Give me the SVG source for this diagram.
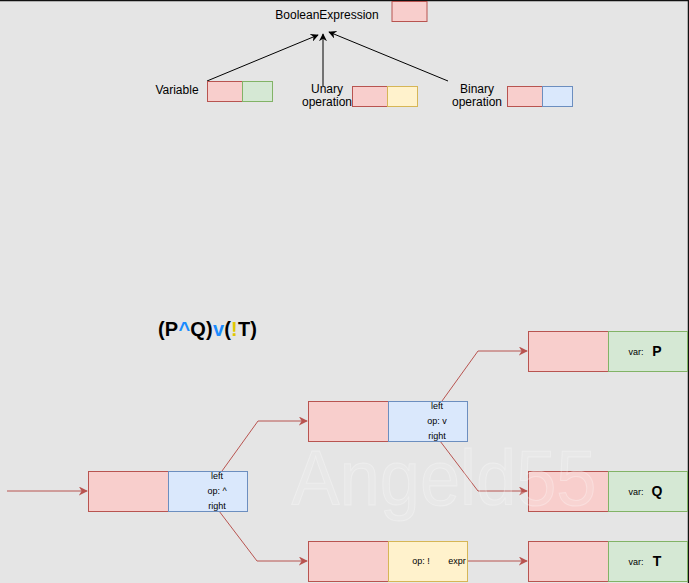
<svg xmlns="http://www.w3.org/2000/svg" width="689" height="583" viewBox="0 0 689 583">
<defs>
<style>
text{font-family:"Liberation Sans",Arial,sans-serif;fill:#000}
.r{fill:#f8cecc;stroke:#b85450;stroke-width:1}
.b{fill:#dae8fc;stroke:#6c8ebf;stroke-width:1}
.g{fill:#d5e8d4;stroke:#82b366;stroke-width:1}
.y{fill:#fff2cc;stroke:#d6b656;stroke-width:1}
.t12{font-size:12px}
.t9{font-size:9px}
.big{font-size:14px;font-weight:bold}
.k{fill:none;stroke:#000;stroke-width:1}
.c{fill:none;stroke:#b85450;stroke-width:1}
</style>
<marker id="ak" viewBox="0 0 10 10" refX="9" refY="5" markerWidth="8" markerHeight="8" orient="auto" markerUnits="userSpaceOnUse">
<path d="M0,0 L10,5 L0,10 L3,5 Z" fill="#000"/>
</marker>
<marker id="ar" viewBox="0 0 10 10" refX="9" refY="5" markerWidth="9" markerHeight="9" orient="auto" markerUnits="userSpaceOnUse">
<path d="M0,0 L10,5 L0,10 L3,5 Z" fill="#b85450"/>
</marker>
</defs>
<rect x="0" y="0" width="689" height="583" fill="#e5e5e5"/>
<line x1="0" y1="0.5" x2="689" y2="0.5" stroke="#111" stroke-width="1.5"/>
<line x1="688.5" y1="0" x2="688.5" y2="583" stroke="#111" stroke-width="1.5"/>

<g id="connectors">
<line class="k" x1="207" y1="81" x2="318" y2="35" marker-end="url(#ak)"/>
<line class="k" x1="323" y1="86" x2="323" y2="34" marker-end="url(#ak)"/>
<line class="k" x1="448" y1="81" x2="329" y2="32" marker-end="url(#ak)"/>
<line class="c" x1="7" y1="491" x2="87" y2="491" marker-end="url(#ar)"/>
<polyline class="c" points="222,471 258,421 307,421" marker-end="url(#ar)"/>
<polyline class="c" points="219,511 257,561 307,561" marker-end="url(#ar)"/>
<polyline class="c" points="442,401 478,351 527,351" marker-end="url(#ar)"/>
<polyline class="c" points="440,441 478,491 527,491" marker-end="url(#ar)"/>
<line class="c" x1="467" y1="561" x2="527" y2="561" marker-end="url(#ar)"/>
</g>

<g id="booleanExpression">
<text class="t12" x="327" y="19" text-anchor="middle">BooleanExpression</text>
<rect class="r" x="392" y="1.5" width="35" height="20"/>
</g>
<g id="variable">
<text class="t12" x="177" y="94" text-anchor="middle">Variable</text>
<rect class="r" x="207.5" y="81.5" width="35" height="20"/>
<rect class="g" x="242.5" y="81.5" width="30" height="20"/>
</g>
<g id="unary">
<text class="t12" x="327" y="93" text-anchor="middle">Unary</text>
<text class="t12" x="327" y="106" text-anchor="middle">operation</text>
<rect class="r" x="352.5" y="86.5" width="35" height="20"/>
<rect class="y" x="387.5" y="86.5" width="30" height="20"/>
</g>
<g id="binary">
<text class="t12" x="477" y="93" text-anchor="middle">Binary</text>
<text class="t12" x="477" y="106" text-anchor="middle">operation</text>
<rect class="r" x="507.5" y="86.5" width="35" height="20"/>
<rect class="b" x="542.5" y="86.5" width="30" height="20"/>
</g>

<g id="formula">
<text x="158" y="336" font-size="20" font-weight="bold" textLength="99" lengthAdjust="spacing">(P<tspan style="fill:#1a8cff">^</tspan>Q)<tspan style="fill:#1a8cff">v</tspan>(<tspan style="fill:#e0c800">!</tspan>T)</text>
</g>

<g id="nodeAnd">
<rect class="r" x="88.5" y="471.5" width="80" height="40"/>
<rect class="b" x="168.5" y="471.5" width="79" height="40"/>
<text class="t9" x="217" y="479" text-anchor="middle">left</text>
<text class="t9" x="217" y="494" text-anchor="middle">op: ^</text>
<text class="t9" x="217" y="509" text-anchor="middle">right</text>
</g>
<g id="nodeOr">
<rect class="r" x="308.5" y="401.5" width="80" height="40"/>
<rect class="b" x="388.5" y="401.5" width="79" height="40"/>
<text class="t9" x="437" y="409" text-anchor="middle">left</text>
<text class="t9" x="437" y="424" text-anchor="middle">op: v</text>
<text class="t9" x="437" y="439" text-anchor="middle">right</text>
</g>
<g id="nodeNot">
<rect class="r" x="308.5" y="541.5" width="80" height="40"/>
<rect class="y" x="388.5" y="541.5" width="79" height="40"/>
<text class="t9" x="421" y="564" text-anchor="middle">op: !</text>
<text class="t9" x="457" y="564" text-anchor="middle">expr</text>
</g>
<g id="varP">
<rect class="r" x="528.5" y="331.5" width="80" height="40"/>
<rect class="g" x="608.5" y="331.5" width="79" height="40"/>
<text class="t9" x="636" y="355" text-anchor="middle">var:</text>
<text class="big" x="657" y="356" text-anchor="middle">P</text>
</g>
<g id="varQ">
<rect class="r" x="528.5" y="471.5" width="80" height="40"/>
<rect class="g" x="608.5" y="471.5" width="79" height="40"/>
<text class="t9" x="636" y="495" text-anchor="middle">var:</text>
<text class="big" x="657" y="496" text-anchor="middle">Q</text>
</g>
<g id="varT">
<rect class="r" x="528.5" y="541.5" width="80" height="40"/>
<rect class="g" x="608.5" y="541.5" width="79" height="40"/>
<text class="t9" x="636" y="565" text-anchor="middle">var:</text>
<text class="big" x="657" y="566" text-anchor="middle">T</text>
</g>

<text x="444" y="505" text-anchor="middle" font-size="78" textLength="305" lengthAdjust="spacingAndGlyphs" style="fill:#ffffff;fill-opacity:0.12;stroke:#ffffff;stroke-opacity:0.3;stroke-width:1">Angeld55</text>
</svg>
